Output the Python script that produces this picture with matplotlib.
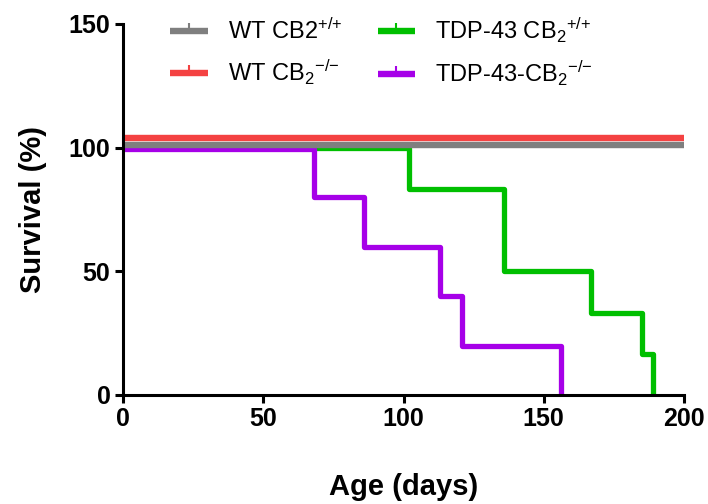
import matplotlib
matplotlib.use("Agg")
import matplotlib.pyplot as plt
from matplotlib.lines import Line2D

# survival data (Kaplan-Meier steps)
wt_ko_days = [0, 200]
wt_ko_surv = [104, 104]
wt_wt_days = [0, 200]
wt_wt_surv = [101, 101]
tdp_wt_days = [0, 102, 136, 167, 185, 189]
tdp_wt_surv = [100, 83.3, 50, 33.3, 16.7, 0]
tdp_ko_days = [0, 68, 86, 113, 121, 156]
tdp_ko_surv = [99.5, 80, 60, 40, 20, 0]

labels = ["WT CB2$^{{+}/{+}}$", "WT CB$_2$$^{{-}/{-}}$",
          "TDP-43 CB$_2$$^{{+}/{+}}$", "TDP-43-CB$_2$$^{{-}/{-}}$"]
colors = ["#7f7f7f", "#f44242", "#00bf00", "#a600e8"]

plt.rcParams["font.family"] = ["Liberation Sans", "DejaVu Sans"]
plt.rcParams["mathtext.fontset"] = "custom"
plt.rcParams["mathtext.rm"] = "Liberation Sans"
plt.rcParams["mathtext.it"] = "Liberation Sans:italic"
plt.rcParams["mathtext.bf"] = "Liberation Sans:bold"

fig = plt.figure(figsize=(7.08, 5.04), dpi=100)
ax = fig.add_axes([123 / 708, 109 / 504, 561 / 708, 371 / 504])

ax.step(tdp_wt_days, tdp_wt_surv, where="post", color=colors[2], lw=3.8,
        solid_joinstyle="round", solid_capstyle="butt")
ax.step(tdp_ko_days, tdp_ko_surv, where="post", color=colors[3], lw=3.8,
        solid_joinstyle="round", solid_capstyle="butt")
ax.plot(wt_ko_days, wt_ko_surv, color=colors[1], lw=4.6, solid_capstyle="round")
ax.plot(wt_wt_days, wt_wt_surv, color=colors[0], lw=4.6, solid_capstyle="round")

ax.set_xlim(0, 200)
ax.set_ylim(0, 150)
ax.set_xticks([0, 50, 100, 150, 200])
ax.set_yticks([0, 50, 100, 150])
for s in ["top", "right"]:
    ax.spines[s].set_visible(False)
for s in ["left", "bottom"]:
    ax.spines[s].set_linewidth(2.2)
ax.tick_params(width=2.2, length=6, pad=3)
for lab in ax.get_xticklabels() + ax.get_yticklabels():
    lab.set_fontweight("bold")
    lab.set_fontsize(18)

ax.set_xlabel("Age (days)", fontweight="bold", fontsize=21, labelpad=30)
ax.set_ylabel("Survival (%)", fontweight="bold", fontsize=21, labelpad=16)

handles = [Line2D([], [], color=c, lw=4.6, marker=2, markersize=6,
                  markeredgewidth=1.5, solid_capstyle="butt")
           for c in colors]
fig.legend(handles, labels, ncols=2, frameon=False, fontsize=17,
           loc="upper left", bbox_to_anchor=(158 / 708, 1 - 4 / 504),
           borderpad=0, handlelength=1.6, handletextpad=0.85,
           columnspacing=1.5, labelspacing=0.6)

fig.savefig("out.png", dpi=100)
